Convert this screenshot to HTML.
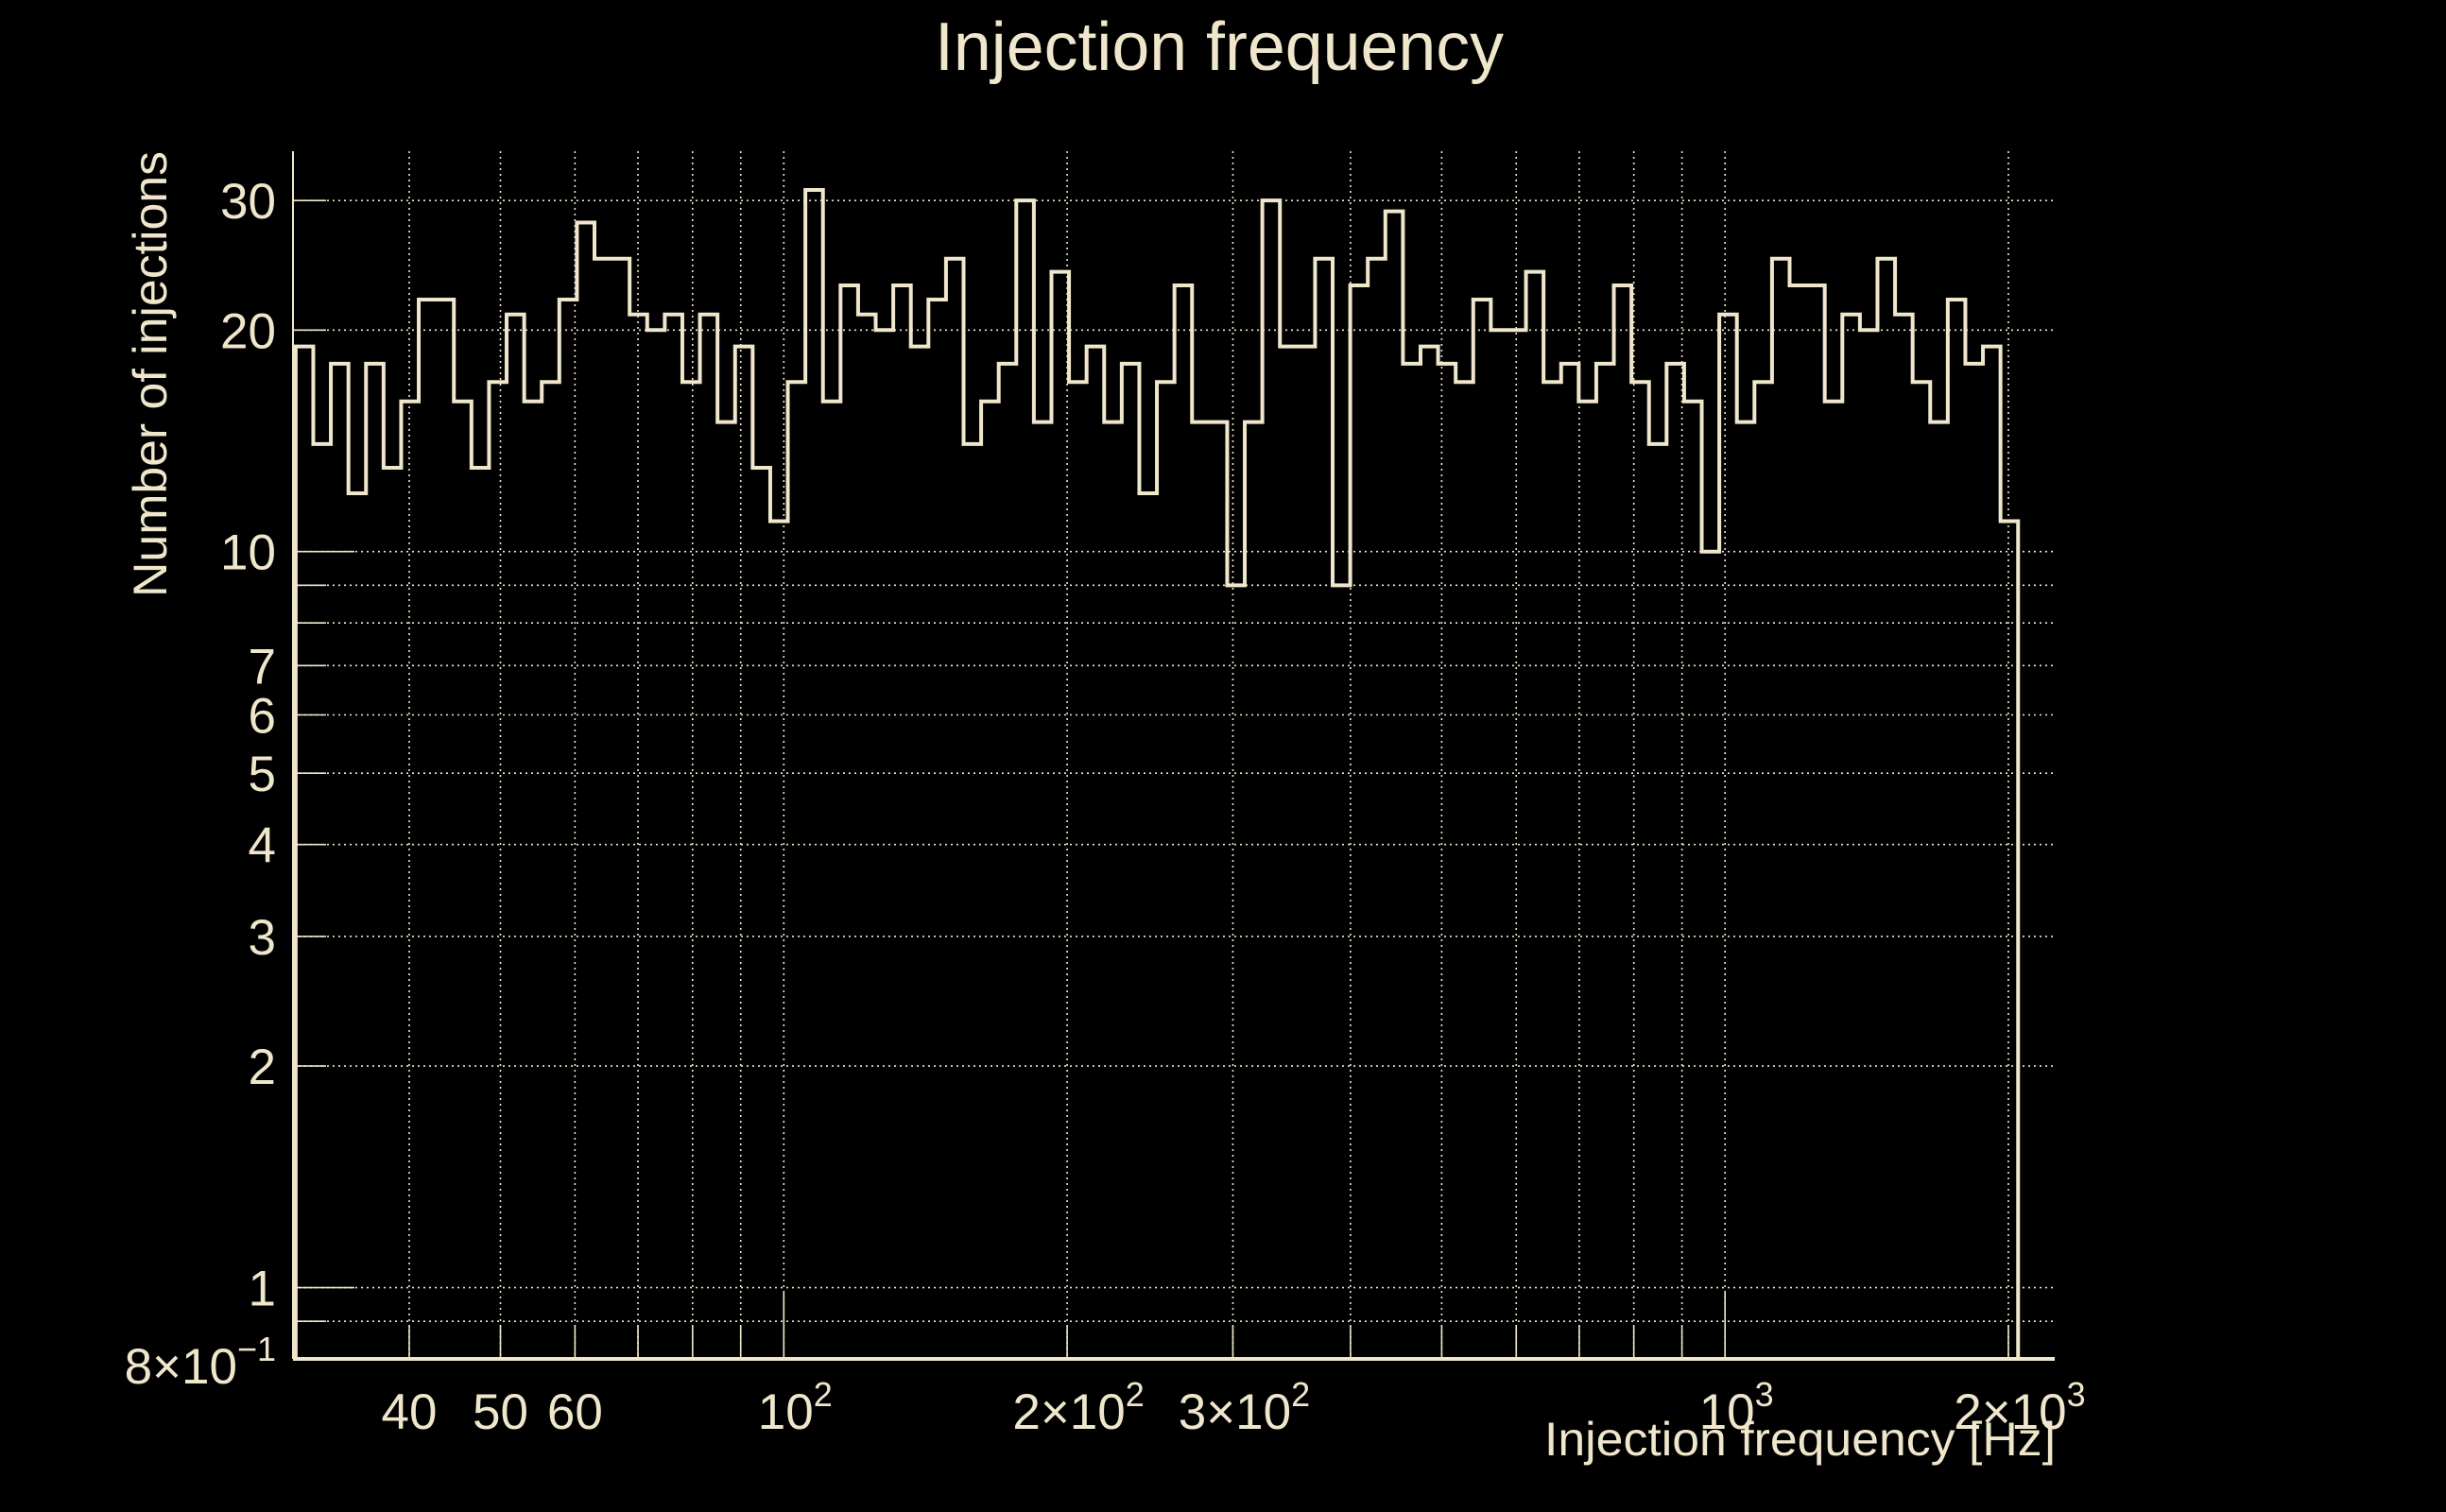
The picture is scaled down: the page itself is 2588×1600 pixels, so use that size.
<!DOCTYPE html>
<html><head><meta charset="utf-8"><style>
html,body{margin:0;padding:0;background:#000;}
svg{display:block;}
text{font-family:"Liberation Sans",sans-serif;fill:#f0e6cc;}
</style></head><body>
<svg id="chart" width="2588" height="1600" viewBox="0 0 2588 1600" xmlns="http://www.w3.org/2000/svg">
<rect width="2588" height="1600" fill="#000"/>
<text x="1290" y="74" font-size="72" text-anchor="middle" textLength="602" lengthAdjust="spacingAndGlyphs">Injection frequency</text>
<g id="grid"></g>
<g id="ticks"></g>
<path id="hist" fill="none" stroke="#f0e6cc" stroke-width="4"/>
<g id="axes"></g>
<text x="2175" y="1540" font-size="50" text-anchor="end" textLength="541" lengthAdjust="spacingAndGlyphs">Injection frequency [Hz]</text>
<text transform="translate(176,396) rotate(-90)" font-size="50" text-anchor="middle" textLength="472" lengthAdjust="spacingAndGlyphs">Number of injections</text>
</svg>
<script>
const counts = [19,14,18,12,18,13,16,22,22,16,13,17,21,16,17,22,28,25,25,21,20,21,17,21,15,19,13,11,17,31,16,23,21,20,23,19,22,25,14,16,18,30,15,24,17,19,15,18,12,17,23,15,15,9,15,30,19,19,25,9,23,25,29,18,19,18,17,22,20,20,24,17,18,16,18,23,17,14,18,16,10,21,15,17,25,23,23,16,21,20,25,21,17,15,22,18,19,11];
const binRange = [30.3, 2048];
const xDomain = [30.1, 2240];
const yDomain = [0.8, 35];
const xGridValues = [40,50,60,70,80,90,100,200,300,400,500,600,700,800,900,1000,2000];
const xTickValues = [40,50,60,100,200,300,1000,2000];
const xTickLabels = ["40","50","60","10|2","2×10|2","3×10|2","10|3","2×10|3"];
const yGridValues = [0.9,1,2,3,4,5,6,7,8,9,10,20,30];
const yTickValues = [0.8,1,2,3,4,5,6,7,10,20,30];
const yTickLabels = ["8×10|−1","1","2","3","4","5","6","7","10","20","30"];

const L=310,R=2174,T=160,B=1438;
const NS="http://www.w3.org/2000/svg";
const C="#f0e6cc";
function xs(v){const a=Math.log10(xDomain[0]),b=Math.log10(xDomain[1]);return L+(Math.log10(v)-a)/(b-a)*(R-L);}
function ys(v){const a=Math.log10(yDomain[0]),b=Math.log10(yDomain[1]);return B-(Math.log10(v)-a)/(b-a)*(B-T);}
function mk(tag,attrs,parent){const e=document.createElementNS(NS,tag);for(const k in attrs)e.setAttribute(k,attrs[k]);parent.appendChild(e);return e;}

const grid=document.getElementById('grid');
xGridValues.forEach(v=>{
  const l=mk('line',{x1:xs(v),x2:xs(v),y1:T,y2:B,stroke:C,'stroke-width':1.6,'stroke-dasharray':'2 4'},grid);
  
  
  const t=mk('line',{x1:xs(v),x2:xs(v),y1:B-(v===100||v===1000?70:35),y2:B,stroke:C,'stroke-width':1.6},grid);
  
  
});
yGridValues.forEach(v=>{
  const l=mk('line',{x1:L,x2:R,y1:ys(v),y2:ys(v),stroke:C,'stroke-width':1.6,'stroke-dasharray':'2 4'},grid);
  
  
  const t=mk('line',{x1:L,x2:L+(v===1||v===10?65:35),y1:ys(v),y2:ys(v),stroke:C,'stroke-width':1.6},grid);
  
  
});

const ticks=document.getElementById('ticks');
function label(txt,x,y,anchor,name){
  const parts=txt.split('|');
  const t=mk('text',{x:x,y:y,'font-size':53,'text-anchor':anchor},ticks);
  
  
  const s1=document.createElementNS(NS,'tspan');s1.textContent=parts[0];t.appendChild(s1);
  if(parts[1]){const s2=document.createElementNS(NS,'tspan');s2.setAttribute('font-size',36);s2.setAttribute('dy',-24);s2.textContent=parts[1];t.appendChild(s2);}
}
xTickValues.forEach((v,i)=>label(xTickLabels[i],xs(v)+(xTickLabels[i].includes('|')?12:0),1512,'middle','x-tick-label'));
yTickValues.forEach((v,i)=>label(yTickLabels[i],292,ys(v)+(v===0.8?26:19),'end','y-tick-label'));

const n=counts.length;
const la=Math.log10(binRange[0]),lb=Math.log10(binRange[1]);
function edge(i){return Math.pow(10,la+(lb-la)*i/n);}
let d='M'+xs(edge(0))+' '+B;
counts.forEach((c,i)=>{d+=' L'+xs(edge(i))+' '+ys(c)+' L'+xs(edge(i+1))+' '+ys(c);});
d+=' L'+xs(edge(n))+' '+B;
document.getElementById('hist').setAttribute('d',d);

const axes=document.getElementById('axes');
const ax=mk('line',{x1:L,x2:R,y1:B,y2:B,stroke:C,'stroke-width':4},axes);


const ay=mk('line',{x1:L,x2:L,y1:T,y2:B,stroke:C,'stroke-width':2},axes);


</script>
</body></html>
